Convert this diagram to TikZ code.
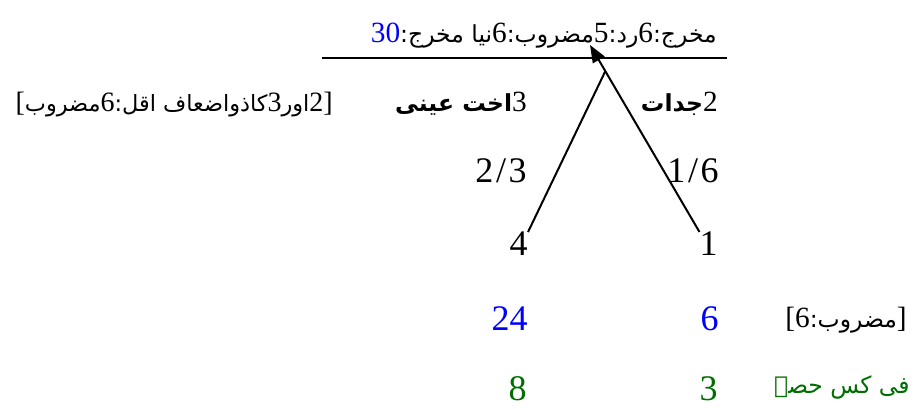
\documentclass[tikz,border=0pt]{standalone}
\usepackage{fontspec}
\setmainfont{Liberation Serif}
\newfontfamily\urdu[Script=Arabic,Scale=0.8]{DejaVu Sans}
\TeXXeTstate=1
\usetikzlibrary{arrows.meta,calc}
\definecolor{hissa}{RGB}{0,110,0}
\begin{document}
\begin{tikzpicture}[
    x=0.75pt, y=-0.75pt,
    num/.style={anchor=base east, inner sep=0pt, font=\fontsize{27}{30}\selectfont},
    txt/.style={anchor=base east, inner sep=0pt, font=\fontsize{22}{26}\selectfont},
    ln/.style={line width=1.5pt},
    ar/.style={ln, -{Triangle[length=13pt,width=10pt]}},
  ]
  \useasboundingbox (0,0) rectangle (923,409);
  \node[txt] (makhraj) at (717,43) {\textcolor{blue}{30}\beginR{\urdu مخرج:}6{\urdu رد:}5{\urdu مضروب:}6{\urdu نیا مخرج:}\endR};
  \draw[ln] (322,58) -- (727,58);
  \node[txt, font=\fontsize{21}{25}\selectfont] (lcm) at (333,112) {[\beginR 2{\urdu اور}3{\urdu کاذواضعاف اقل:}6{\urdu مضروب}\endR]};
  \node[txt] (ukht) at (527,112) {\beginR 3{\urdu\bfseries اخت عینی}\endR};
  \node[txt] (jaddat) at (718,112) {\beginR 2{\urdu\bfseries جدات}\endR};
  \node[num] (ukhtf) at (527,183) {2\kern2pt/\kern2pt3};
  \node[num] (jaddatf) at (719,183) {1\kern2pt/\kern2pt6};
  \node[num] (four) at (528,256) {4};
  \node[num] (one) at (718,256) {1};
  \node[num, text=blue] (ukhtm) at (528,330) {24};
  \node[num, text=blue] (jaddatm) at (719,330) {6};
  \node[txt] (mazrub) at (907,327) {[\beginR{\urdu مضروب:}6\endR]};
  \node[num, text=hissa] (ukhth) at (527,400) {8};
  \node[num, text=hissa] (jaddath) at (718,400) {3};
  \node[txt, text=hissa] (fikas) at (910,393) {\beginR{\urdu فی کس حصہ}\endR};
  \coordinate (tip) at (590,45);
  \coordinate (meet) at ($(one.north west)!0.86!(tip)$);
  \draw[ar] (one.north west) -- (tip);
  \draw[ln] (four.north east) -- (meet);
\end{tikzpicture}
\end{document}
